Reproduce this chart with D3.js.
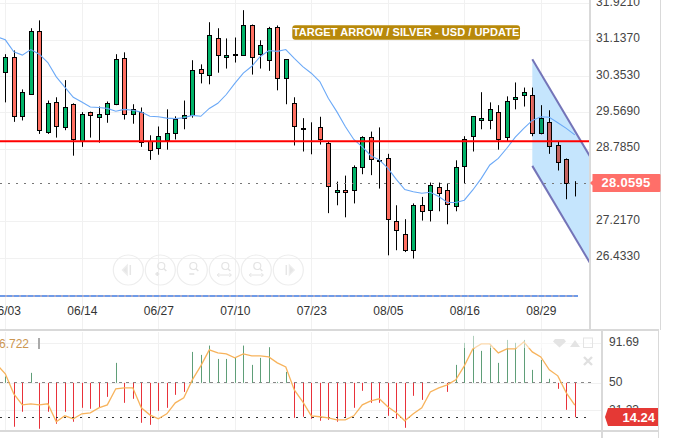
<!DOCTYPE html>
<html><head><meta charset="utf-8">
<script src="https://cdn.jsdelivr.net/npm/d3@7"></script>
<style>html,body{margin:0;padding:0;background:#fff}svg{display:block;font-family:"Liberation Sans",Arial,sans-serif}</style>
</head><body><svg id="c" width="678" height="438"></svg>
<script>
const dates=["05/31","06/03","06/04","06/05","06/06","06/07","06/10","06/11","06/12","06/13","06/14","06/17","06/18","06/19","06/20","06/21","06/24","06/25","06/26","06/27","06/28","07/01","07/02","07/03","07/04","07/05","07/08","07/09","07/10","07/11","07/12","07/15","07/16","07/17","07/18","07/19","07/22","07/23","07/24","07/25","07/26","07/29","07/30","07/31","08/01","08/02","08/05","08/06","08/07","08/08","08/09","08/12","08/13","08/14","08/15","08/16","08/19","08/20","08/21","08/22","08/23","08/26","08/27","08/28","08/29","08/30","09/02","09/03","09/04","09/05","09/06"];
const candleDates=dates.slice(1,69);
const opens=[30.43,30.75,29.49,29.97,31.33,29.15,29.78,29.24,29.74,28.94,29.57,29.46,29.52,29.75,30.73,29.52,29.57,28.94,28.79,28.96,29.13,29.44,29.51,30.49,30.38,31.18,30.75,30.80,30.80,31.46,30.82,30.69,31.40,30.30,29.76,29.20,29.23,29.24,28.90,27.84,27.90,27.88,28.39,29.03,28.51,28.59,27.23,26.95,26.59,27.56,27.45,27.95,27.88,27.54,28.40,29.05,29.41,29.41,29.57,29.03,29.85,29.93,29.93,29.11,29.35,28.85,28.55,28.04];
const closes=[30.75,29.48,30.00,31.31,29.18,29.76,29.26,29.69,29.00,29.54,29.50,29.52,29.76,30.71,29.52,29.63,28.92,28.75,29.05,29.11,29.43,29.50,30.47,30.41,31.23,30.80,30.80,30.82,31.44,30.77,31.01,31.38,30.30,30.71,29.26,29.22,29.22,28.98,27.97,27.88,27.84,28.38,29.03,28.55,28.53,27.26,27.02,26.59,27.56,27.43,27.99,27.82,27.58,28.38,29.00,29.48,29.44,29.63,28.98,29.82,29.89,30.00,29.11,29.44,28.83,28.49,28.03,28.05];
const highs=[30.82,30.90,30.06,31.38,31.55,29.82,29.89,30.26,29.76,29.57,29.58,29.69,29.80,30.82,30.86,29.74,29.67,29.07,29.26,29.63,29.48,29.82,30.69,30.60,31.51,31.38,31.16,31.18,31.77,31.46,31.12,31.41,31.44,30.71,29.89,29.44,29.35,29.47,28.93,28.07,28.20,28.42,29.05,29.15,29.24,28.67,27.56,27.26,27.60,27.74,28.05,28.05,28.03,28.53,29.05,29.48,30.00,29.78,29.72,29.91,30.21,30.10,30.10,29.72,29.61,28.94,28.57,28.08];
const lows=[29.78,29.36,29.39,29.94,29.10,29.10,29.02,29.18,28.63,28.82,29.02,28.91,29.34,29.72,29.41,29.32,28.82,28.54,28.65,28.76,28.98,29.20,29.45,30.19,30.17,30.42,30.51,30.64,30.80,30.38,30.51,30.46,30.04,29.74,28.85,28.72,28.66,28.87,27.39,27.56,27.30,27.60,28.23,28.21,27.92,26.48,26.59,26.55,26.41,27.23,27.21,27.43,27.15,27.43,28.03,28.72,29.20,29.20,28.76,28.94,29.63,29.69,29.05,29.09,28.67,28.31,27.69,27.75];
const maDates=dates.slice(0,69);
const ma=[31.20,31.13,30.87,30.80,30.92,30.82,30.64,30.33,30.11,29.89,29.79,29.68,29.67,29.65,29.59,29.63,29.61,29.57,29.48,29.47,29.44,29.43,29.45,29.50,29.48,29.65,29.76,29.95,30.19,30.41,30.56,30.77,30.90,30.88,30.92,30.73,30.55,30.41,30.23,29.87,29.58,29.26,28.98,28.82,28.63,28.54,28.36,28.12,27.90,27.85,27.82,27.84,27.75,27.62,27.62,27.67,27.89,28.14,28.43,28.57,28.79,29.03,29.22,29.39,29.47,29.46,29.34,29.22,29.08];
const oscBars=[56.6,4.3,19.9,60.4,2.2,19.9,7.4,19.9,9.5,24.0,23.0,24.0,35.4,70.8,29.2,33.4,8.4,6.3,20.9,24.0,37.5,40.6,82.2,79.1,88.8,74.9,74.9,76.0,88.8,68.7,76.0,87.1,51.0,61.4,13.6,14.7,12.6,10.5,11.5,9.5,13.6,24.0,41.7,29.2,29.2,15.7,12.6,3.2,36.5,32.3,50.2,50.3,40.6,68.7,91.6,98.9,83.3,89.5,70.8,94.7,91.6,94.7,63.5,73.9,54.2,43.8,21.9,14.24];
const oscLine=[69.0,59.4,38.6,27.1,28.2,27.1,28.2,9.5,15.7,12.6,17.8,18.8,24.0,27.1,43.8,44.8,44.8,24.0,16.7,12.6,17.8,29.2,34.4,53.1,67.7,84.3,81.2,80.1,76.0,80.1,78.1,78.1,77.0,70.8,66.6,42.7,30.2,15.7,14.7,13.6,11.5,11.5,15.7,27.1,31.3,33.4,25.1,18.8,10.5,17.8,24.0,40.6,44.8,47.9,53.1,67.7,85.3,90.5,90.5,81.2,85.3,85.3,92.6,82.2,77.0,63.5,57.3,39.6,26.72];
const channelDates=["08/28","09/06"];
const channelTop=[30.71,28.55];
const channelBottom=[28.41,26.25];
const priceTicks=[31.921,31.137,30.353,29.569,28.785,27.217,26.433];
const oscTicks=[91.69,50,21.23];
const dateTicks=["06/03","06/14","06/27","07/10","07/23","08/05","08/16","08/29"];
const resistance=28.94, lastPrice=28.0595, lastOsc=14.24, oscMid=50;
const title="TARGET ARROW / SILVER - USD / UPDATE";

const svg=d3.select("#c");
const x=d3.scalePoint().domain(dates).range([-3.2,591.8]);
const y=d3.scaleLinear().domain([26.433,31.137]).range([257.5,39.5]);
const yo=d3.scaleLinear().domain([14.24,91.69]).range([417.2,342.8]);
const snap=v=>Math.round(v)+0.5;
const defs=svg.append("defs");
defs.append("clipPath").attr("id","pc").append("rect").attr("width",589).attr("height",329);
defs.append("clipPath").attr("id","oc").append("rect").attr("y",332).attr("width",601).attr("height",98);

// grid
const grid=svg.append("g").attr("stroke","#f1f1f1").attr("stroke-width",1);
grid.selectAll(".v").data(dateTicks).join("line").attr("class","v").attr("x1",d=>snap(x(d))).attr("x2",d=>snap(x(d))).attr("y1",0).attr("y2",329);
grid.selectAll(".w").data(dateTicks).join("line").attr("class","w").attr("x1",d=>snap(x(d))).attr("x2",d=>snap(x(d))).attr("y1",332).attr("y2",430);
grid.selectAll(".h").data(priceTicks).join("line").attr("class","h").attr("x1",0).attr("x2",589).attr("y1",d=>snap(y(d))).attr("y2",d=>snap(y(d)));
grid.selectAll(".o").data(oscTicks).join("line").attr("class","o").attr("x1",0).attr("x2",601).attr("y1",d=>snap(yo(d))).attr("y2",d=>snap(yo(d)));

// nav buttons
const nav=svg.append("g").attr("fill","none").attr("stroke","#ededed").attr("stroke-width",1.2);
const navX=[128.3,160.3,192.3,224.3,256.3,288.3];
nav.selectAll("circle").data(navX).join("circle").attr("cx",d=>d).attr("cy",270).attr("r",15);
navX.forEach((cx,i)=>{
  const g=nav.append("g").attr("transform",`translate(${cx},270)`);
  if(i==0){g.append("path").attr("d","M-1,-5L-1,5L-6,0Z").attr("fill","#e6e6e6");g.append("line").attr("x1",2).attr("x2",2).attr("y1",-5).attr("y2",5).attr("stroke","#e6e6e6").attr("stroke-width",1.5);}
  else if(i==5){g.append("path").attr("d","M1,-5L1,5L6,0Z").attr("fill","#e6e6e6");g.append("line").attr("x1",-2).attr("x2",-2).attr("y1",-5).attr("y2",5).attr("stroke","#e6e6e6").attr("stroke-width",1.5);}
  else{
    g.append("circle").attr("cx",1).attr("cy",-4).attr("r",3.5).attr("stroke","#e4e4e4");
    g.append("line").attr("x1",3.5).attr("y1",-1.5).attr("x2",6).attr("y2",1).attr("stroke","#e4e4e4").attr("stroke-width",1.6);
    const s="#e4e4e4";
    if(i==1)g.append("path").attr("d","M-5,4H-1M-3,2V6").attr("stroke",s).attr("stroke-width",1.6);
    if(i==2)g.append("path").attr("d","M-3,4H2").attr("stroke",s).attr("stroke-width",1.6);
    if(i==3||i==4)g.append("path").attr("d","M-7,5H7M-7,5l2,-2M-7,5l2,2M7,5l-2,-2M7,5l-2,2").attr("stroke",s).attr("stroke-width",1);
  }
});

// candles
const main=svg.append("g").attr("clip-path","url(#pc)");
const idx=d3.range(candleDates.length);
const c=main.append("g");
c.selectAll("line").data(idx).join("line").attr("x1",i=>snap(x(candleDates[i]))).attr("x2",i=>snap(x(candleDates[i]))).attr("y1",i=>y(highs[i])).attr("y2",i=>y(lows[i])).attr("stroke","#000").attr("stroke-width",1);
c.selectAll("rect").data(idx).join("rect")
 .attr("x",i=>snap(x(candleDates[i]))-2).attr("width",4)
 .attr("y",i=>snap(y(Math.max(opens[i],closes[i])))).attr("height",i=>snap(y(Math.min(opens[i],closes[i])))-snap(y(Math.max(opens[i],closes[i]))))
 .attr("fill",i=>closes[i]>=opens[i]?"#00b368":"#ff6f61").attr("stroke","#000").attr("stroke-width",1);

// channel
const cy=(arr)=>channelDates.map((d,i)=>[x(d),y(arr[i])]);
const chPoly=[...cy(channelTop),...cy(channelBottom).reverse()];
main.append("path").attr("d",d3.line()(chPoly)+"Z").attr("fill","#c5e5fd").style("mix-blend-mode","multiply");
[channelTop,channelBottom].forEach(a=>main.append("path").attr("d",d3.line()(cy(a))).attr("fill","none").attr("stroke","#7474b8").attr("stroke-width",2));

// MA
main.append("path").datum(ma).attr("fill","none").attr("stroke","#6ba9f7").attr("stroke-width",1.1)
 .attr("d",d3.line().x((d,i)=>x(maDates[i])).y(d=>y(d)));
// levels
main.append("line").attr("x1",0).attr("x2",589).attr("y1",Math.round(y(resistance))+0.3).attr("y2",Math.round(y(resistance))+0.3).attr("stroke","#f00").attr("stroke-width",2);
main.append("line").attr("x1",0).attr("x2",589).attr("y1",183.5).attr("y2",183.5).attr("stroke","#777").attr("stroke-width",1).attr("stroke-dasharray","2 6");

// blue dashed
svg.append("line").attr("x1",0).attr("x2",578).attr("y1",296).attr("y2",296).attr("stroke","#a9a9c9").attr("stroke-width",2);
svg.append("line").attr("x1",0).attr("x2",578).attr("y1",296).attr("y2",296).attr("stroke","#6f9be8").attr("stroke-width",2).attr("stroke-dasharray","5 2");

// borders
const b=svg.append("g").attr("stroke","#d9d9d9").attr("stroke-width",2);
b.append("line").attr("x1",590).attr("x2",590).attr("y1",0).attr("y2",330);
b.append("line").attr("x1",660.5).attr("x2",660.5).attr("y1",0).attr("y2",330).attr("stroke-width",1);
b.append("line").attr("x1",0).attr("x2",659).attr("y1",330).attr("y2",330);
b.append("line").attr("x1",0).attr("x2",659).attr("y1",431).attr("y2",431);
b.append("line").attr("x1",602).attr("x2",602).attr("y1",330).attr("y2",438);
b.append("line").attr("x1",658.5).attr("x2",658.5).attr("y1",330).attr("y2",438).attr("stroke-width",1);

// axes
const ax=svg.append("g").attr("transform","translate(0,303)").call(d3.axisBottom(x).tickValues(dateTicks).tickSize(0).tickPadding(3));
ax.select(".domain").remove();
ax.selectAll("text").attr("font-size",12).attr("font-family","Liberation Sans").attr("fill","#333");
const ay=svg.append("g").attr("transform","translate(596,-1.5)").call(d3.axisRight(y).tickValues(priceTicks).tickFormat(d3.format(".4f")).tickSize(0).tickPadding(0));
ay.select(".domain").remove();
ay.selectAll("text").attr("font-size",12).attr("font-family","Liberation Sans").attr("fill","#444").attr("letter-spacing",0.1);
const ao=svg.append("g").attr("transform","translate(609,-1)").call(d3.axisRight(yo).tickValues(oscTicks).tickFormat(d=>d).tickSize(0).tickPadding(0));
ao.select(".domain").remove();
ao.selectAll("text").attr("font-size",12).attr("font-family","Liberation Sans").attr("fill","#444");

// oscillator
const osc=svg.append("g").attr("clip-path","url(#oc)");
osc.append("line").attr("x1",0).attr("x2",592).attr("y1",382.5).attr("y2",382.5).attr("stroke","#888").attr("stroke-width",1).attr("stroke-dasharray","3 4");
osc.selectAll(".bar").data(oscBars).join("line").attr("class","bar")
 .attr("x1",(d,i)=>snap(x(candleDates[i]))).attr("x2",(d,i)=>snap(x(candleDates[i])))
 .attr("y1",yo(oscMid)).attr("y2",d=>yo(d))
 .attr("stroke",d=>d>=oscMid?"#5f9e78":"#e8323a").attr("stroke-width",1);
osc.append("line").attr("x1",0).attr("x2",592).attr("y1",417.5).attr("y2",417.5).attr("stroke","#333").attr("stroke-width",1).attr("stroke-dasharray","2 6");
osc.append("path").datum(oscLine).attr("fill","none").attr("stroke","#f7b35c").attr("stroke-width",1.3)
 .attr("d",d3.line().x((d,i)=>x(maDates[i])).y(d=>yo(d)));
// toolbar veil + icons
svg.append("rect").attr("x",460).attr("y",331).attr("width",130).attr("height",17).attr("fill","#fff").attr("opacity",.5);
const tb=svg.append("g").attr("fill","#e4e4e4");
tb.append("path").attr("d","M555,339h9l2,2.5l-6.5,6l-6.5,-6Z");
tb.append("path").attr("d","M570,347l5,-7l5,7Z");
tb.append("rect").attr("x",583.5).attr("y",338).attr("width",9).attr("height",9.5).attr("fill","none").attr("stroke","#e4e4e4").attr("stroke-width",1);
tb.append("path").attr("d","M584,357l8,8M592,357l-8,8").attr("stroke","#e0e0e0").attr("stroke-width",2.4);

svg.append("text").attr("x",29).attr("y",348.3).attr("text-anchor","end").attr("font-size",12).attr("fill","#cc9650").text("26.722");
svg.append("rect").attr("x",38).attr("y",338).attr("width",2).attr("height",11).attr("fill","#aaa");

// title badge
svg.append("rect").attr("x",292.3).attr("y",25.3).attr("width",227.7).attr("height",14.5).attr("rx",3).attr("fill","#b8890a");
svg.append("text").attr("x",406).attr("y",36.4).attr("text-anchor","middle").attr("font-size",11).attr("font-weight","bold").attr("letter-spacing",0.06).attr("fill","#fff").text(title);

// tags
svg.append("path").attr("d","M592.5,174H659.5a1,1 0 0 1 1,1V191a1,1 0 0 1 -1,1H592.5V185.5L590,183L592.5,180.5Z").attr("fill","#ff6f69");
svg.append("text").attr("x",626).attr("y",187).attr("text-anchor","middle").attr("font-size",13).attr("font-weight","bold").attr("letter-spacing",0.3).attr("fill","#fff").text(d3.format(".4f")(lastPrice));
svg.append("path").attr("d","M608,408H658V426H608L605,417Z").attr("fill","#e53935");
svg.append("text").attr("x",655).attr("y",421.5).attr("text-anchor","end").attr("font-size",13).attr("font-weight","bold").attr("fill","#fff").text(lastOsc);
</script></body></html>
